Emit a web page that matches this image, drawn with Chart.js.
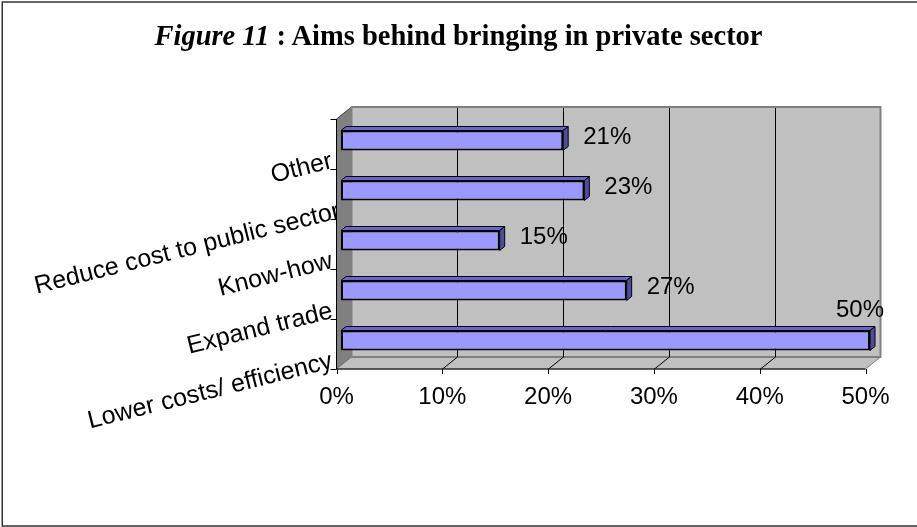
<!DOCTYPE html>
<html>
<head>
<meta charset="utf-8">
<title>Aims behind bringing in private sector</title>
<script src="https://cdn.jsdelivr.net/npm/chart.js@4.4.1/dist/chart.umd.min.js"></script>
<style>
    html, body { margin: 0; padding: 0; background: #fff; overflow: hidden; }
    #wrap { position: relative; width: 917px; height: 527px; }
    #aimsChart { position: absolute; left: 0; top: 0; }
    #title {
        position: absolute; left: 0; top: 22px; width: 917px;
        text-align: center; color: #000;
        font-family: "Liberation Serif", "Times New Roman", serif;
        font-weight: bold; font-size: 28.5px; line-height: 28px;
    }
</style>
</head>
<body>
<div id="wrap">
    <canvas id="aimsChart" width="917" height="527"></canvas>
    <div id="title"><i>Figure 11</i> : Aims behind bringing in private sector</div>
</div>
<script>
const categories = ["Other", "Reduce cost to public sector", "Know-how", "Expand trade", "Lower costs/ efficiency"];
const shares = [21, 23, 15, 27, 50];
const xTicks = [0, 10, 20, 30, 40, 50];

/* ============================
   3D LOOK (pixel offsets)
============================ */
const FRONT_DX = -4.5, FRONT_DY = 3.5;   // front plane, relative to the bars
const DEPTH_X = 15, DEPTH_Y = -12;       // front plane -> back wall
const BAR_DX = 5, BAR_DY = -4;           // bar thickness
const LABEL_FONT = '"Liberation Sans", Arial, sans-serif';

function plane(chart) {
    const xs = chart.scales.x;
    const ca = chart.chartArea;
    return {
        fx: v => xs.getPixelForValue(v) + FRONT_DX,
        top: ca.top + FRONT_DY,
        bottom: ca.bottom + FRONT_DY,
        band: (ca.bottom - ca.top) / categories.length
    };
}

function poly(ctx, pts) {
    ctx.beginPath();
    ctx.moveTo(pts[0][0], pts[0][1]);
    for (let i = 1; i < pts.length; i++) ctx.lineTo(pts[i][0], pts[i][1]);
    ctx.closePath();
}

// outer frame, walls, floor and gridlines
const walls = {
    id: "walls",
    beforeDraw(chart) {
        const ctx = chart.ctx;
        ctx.save();
        ctx.fillStyle = "#fff";
        ctx.fillRect(0, 0, chart.width, chart.height);
        ctx.strokeStyle = "#333";
        ctx.lineWidth = 1.5;
        ctx.strokeRect(2.25, 2, 940, 524);
        ctx.restore();
    },
    beforeDatasetsDraw(chart) {
        const ctx = chart.ctx;
        const p = plane(chart);
        const x0 = p.fx(xTicks[0]);
        const x1 = p.fx(xTicks[xTicks.length - 1]);
        ctx.save();
        ctx.lineJoin = "round";

        // left side wall
        poly(ctx, [[x0, p.top], [x0 + DEPTH_X, p.top + DEPTH_Y], [x0 + DEPTH_X, p.bottom + DEPTH_Y], [x0, p.bottom]]);
        ctx.fillStyle = "#808080";
        ctx.fill();
        ctx.strokeStyle = "#404040";
        ctx.lineWidth = 1;
        ctx.stroke();

        // floor
        poly(ctx, [[x0, p.bottom], [x0 + DEPTH_X, p.bottom + DEPTH_Y], [x1 + DEPTH_X, p.bottom + DEPTH_Y], [x1, p.bottom]]);
        ctx.fillStyle = "#c0c0c0";
        ctx.fill();
        ctx.strokeStyle = "#808080";
        ctx.stroke();

        // back wall
        ctx.fillStyle = "#c0c0c0";
        ctx.fillRect(x0 + DEPTH_X, p.top + DEPTH_Y, x1 - x0, p.bottom - p.top);
        ctx.strokeStyle = "#808080";
        ctx.lineWidth = 2;
        ctx.strokeRect(x0 + DEPTH_X, p.top + DEPTH_Y, x1 - x0, p.bottom - p.top);

        // gridlines: up the back wall and across the floor
        ctx.strokeStyle = "#000";
        ctx.lineWidth = 1;
        xTicks.slice(1, -1).forEach(v => {
            const fx = Math.round(p.fx(v)) + 0.5;
            const bx = fx + DEPTH_X;
            ctx.beginPath();
            ctx.moveTo(bx, p.top + DEPTH_Y + 1);
            ctx.lineTo(bx, p.bottom + DEPTH_Y);
            ctx.lineTo(fx, p.bottom);
            ctx.stroke();
        });

        // axis lines and tick marks on the front plane
        ctx.beginPath();
        ctx.moveTo(x0, p.top);
        ctx.lineTo(x0, p.bottom);
        ctx.lineTo(x1, p.bottom);
        xTicks.forEach(v => {
            const fx = Math.round(p.fx(v)) + 0.5;
            ctx.moveTo(fx, p.bottom);
            ctx.lineTo(fx, p.bottom + 5);
        });
        for (let k = 0; k <= categories.length; k++) {
            const y = Math.round(p.top + k * p.band) + 0.5;
            ctx.moveTo(x0 - 6, y);
            ctx.lineTo(x0, y);
        }
        ctx.stroke();
        ctx.restore();
    },
    afterDatasetsDraw(chart) {
        const ctx = chart.ctx;
        const meta = chart.getDatasetMeta(0);
        const p = plane(chart);
        const wallRight = p.fx(xTicks[xTicks.length - 1]) + DEPTH_X;
        ctx.save();
        ctx.lineJoin = "round";
        ctx.strokeStyle = "#000";
        ctx.lineWidth = 1;

        meta.data.forEach((bar, i) => {
            const { x, y, base, height } = bar.getProps(["x", "y", "base", "height"], true);
            const top = y - height / 2;
            const bot = y + height / 2;

            // top face
            poly(ctx, [[base, top], [base + BAR_DX, top + BAR_DY], [x + BAR_DX, top + BAR_DY], [x, top]]);
            ctx.fillStyle = "#6666cc";
            ctx.fill();
            ctx.stroke();

            // end face
            poly(ctx, [[x, top], [x + BAR_DX, top + BAR_DY], [x + BAR_DX, bot + BAR_DY], [x, bot]]);
            ctx.fillStyle = "#4d4d99";
            ctx.fill();
            ctx.stroke();

            // value label, lifted above the bar when it runs past the wall
            const text = shares[i] + "%";
            ctx.font = "24px " + LABEL_FONT;
            ctx.fillStyle = "#000";
            const w = ctx.measureText(text).width;
            if (x + 20 + w > wallRight + 10) {
                ctx.textAlign = "center";
                ctx.fillText(text, x - 10, y - 24);
            } else {
                ctx.textAlign = "left";
                ctx.fillText(text, x + 20, y + 3.5);
            }
        });
        ctx.restore();
    },
    afterDraw(chart) {
        const ctx = chart.ctx;
        const p = plane(chart);
        const x0 = p.fx(xTicks[0]);
        ctx.save();
        ctx.fillStyle = "#000";

        // x tick labels
        ctx.font = "24px " + LABEL_FONT;
        ctx.textAlign = "center";
        ctx.textBaseline = "alphabetic";
        xTicks.forEach(v => ctx.fillText(v + "%", p.fx(v), p.bottom + 35));

        // rotated category labels, cut off at the axis
        ctx.beginPath();
        ctx.rect(0, 0, x0 - 0.5, chart.height);
        ctx.clip();
        ctx.font = "25px " + LABEL_FONT;
        ctx.textAlign = "right";
        ctx.textBaseline = "middle";
        const ang = -14 * Math.PI / 180;
        categories.forEach((label, i) => {
            const w = ctx.measureText(label).width;
            const ax = Math.max(x0 - 4.5, 32 + w * Math.cos(ang) + 3);
            const ay = p.top + (i + 0.5) * p.band + 17;
            ctx.save();
            ctx.translate(ax, ay);
            ctx.rotate(ang);
            ctx.fillText(label, 0, 0);
            ctx.restore();
        });
        ctx.restore();
    }
};

new Chart(document.getElementById("aimsChart"), {
    type: "bar",
    data: {
        labels: categories,
        datasets: [{
            data: shares,
            backgroundColor: "#9999ff",
            borderColor: "#000",
            borderWidth: 2,
            borderSkipped: false,
            barPercentage: 0.4,
            categoryPercentage: 1
        }]
    },
    options: {
        indexAxis: "y",
        responsive: false,
        animation: false,
        events: [],
        layout: { padding: { left: 341, right: 47, top: 115.5, bottom: 161.5 } },
        plugins: {
            legend: { display: false },
            title: { display: false },
            tooltip: { enabled: false }
        },
        scales: {
            x: { type: "linear", min: 0, max: 50, display: false },
            y: { type: "category", display: false }
        }
    },
    plugins: [walls]
});
</script>
</body>
</html>
